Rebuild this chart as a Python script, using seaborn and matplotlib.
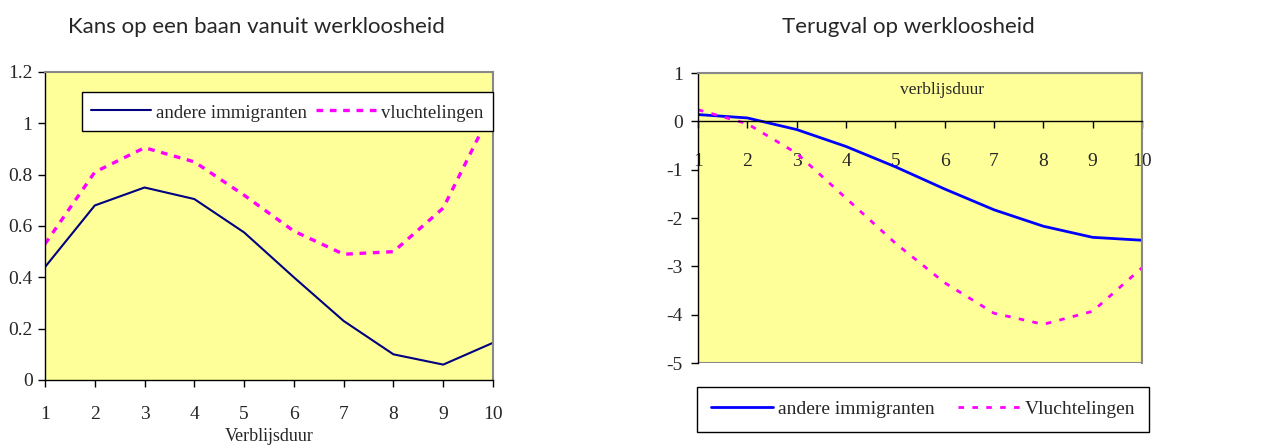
import numpy as np
import pandas as pd
import matplotlib
matplotlib.use("Agg")
import matplotlib.pyplot as plt
import seaborn as sns
from matplotlib.patches import Rectangle
from matplotlib.lines import Line2D

sns.set_theme(style="white")
plt.rcParams['font.family'] = ['Liberation Serif', 'DejaVu Sans']

# Data
verblijfsduur = [1, 2, 3, 4, 5, 6, 7, 8, 9, 10]
kans_andere = [0.44, 0.68, 0.75, 0.705, 0.575, 0.40, 0.23, 0.10, 0.06, 0.145]
kans_vlucht = [0.53, 0.81, 0.905, 0.85, 0.72, 0.58, 0.49, 0.50, 0.67, 1.06]
terug_andere = [0.14, 0.07, -0.17, -0.52, -0.94, -1.40, -1.83, -2.17, -2.40, -2.46]
terug_vlucht = [0.24, -0.05, -0.66, -1.59, -2.52, -3.34, -3.97, -4.20, -3.93, -3.03]
left_yticks = [0, 0.2, 0.4, 0.6, 0.8, 1, 1.2]
left_yticklabels = ["0", "0.2", "0.4", "0.6", "0.8", "1", "1.2"]
right_yticks = [1, 0, -1, -2, -3, -4, -5]

BG = "#FFFF99"
NAVY = "#000080"
BLUE = "#0000FF"
MAG = "#FF00FF"
TITLE_FONT = ['Lato', 'DejaVu Sans']
W, H = 1268, 446

fig = plt.figure(figsize=(W / 100, H / 100), dpi=100)
fig.patch.set_facecolor("white")

# ---------- Left panel ----------
ax1 = fig.add_axes([45 / W, (H - 380) / H, 448 / W, 308 / H])
df1 = pd.DataFrame({"x": verblijfsduur, "andere immigranten": kans_andere,
                    "vluchtelingen": kans_vlucht})
sns.lineplot(data=df1, x="x", y="andere immigranten", ax=ax1, color=NAVY, lw=1.5)
sns.lineplot(data=df1, x="x", y="vluchtelingen", ax=ax1, color=MAG, lw=2.4)
ax1.lines[1].set_dashes([2.0, 2.0])
ax1.set_facecolor(BG)
ax1.set_xlim(1, 10)
ax1.set_ylim(0, 1.2)
ax1.set_xticks(verblijfsduur)
ax1.set_xticklabels([str(v) for v in verblijfsduur], fontsize=14)
ax1.set_yticks(left_yticks)
ax1.set_yticklabels(left_yticklabels, fontsize=14)
ax1.tick_params(axis='both', direction='out', length=5, width=1, color='black',
                bottom=True, left=True)
ax1.tick_params(axis='x', pad=14)
ax1.tick_params(axis='y', pad=4)
ax1.set_xlabel("Verblijsduur", fontsize=13, labelpad=3)
ax1.set_ylabel("")
for s in ['top', 'right']:
    ax1.spines[s].set_color("#888888")
    ax1.spines[s].set_linewidth(1.5)
for s in ['left', 'bottom']:
    ax1.spines[s].set_color("black")
    ax1.spines[s].set_linewidth(1)
fig.text(256 / W, 1 - 33 / H, "Kans op een baan vanuit werkloosheid",
         family=TITLE_FONT, fontsize=16, ha='center', va='baseline')
h1 = [Line2D([], [], color=NAVY, lw=1.5),
      Line2D([], [], color=MAG, lw=2.4, dashes=[2.0, 2.0])]
leg1 = ax1.legend(h1, ["andere immigranten", "vluchtelingen"], ncol=2,
                  loc='upper left',
                  bbox_to_anchor=((82 - 45) / 448, 1 - (92 - 72) / 308),
                  bbox_transform=ax1.transAxes, fontsize=13.5, frameon=True,
                  fancybox=False, edgecolor='black', framealpha=1,
                  handlelength=3.2, columnspacing=0.5, handletextpad=0.25,
                  borderpad=0.5, handleheight=1.3, borderaxespad=0)
leg1.get_frame().set_linewidth(1)

# ---------- Right panel ----------
ax2 = fig.add_axes([698 / W, (H - 363) / H, 444 / W, 290 / H])
df2 = pd.DataFrame({"x": verblijfsduur, "andere immigranten": terug_andere,
                    "Vluchtelingen": terug_vlucht})
sns.lineplot(data=df2, x="x", y="andere immigranten", ax=ax2, color=BLUE, lw=2)
sns.lineplot(data=df2, x="x", y="Vluchtelingen", ax=ax2, color=MAG, lw=2)
ax2.lines[1].set_dashes([2, 3])
ax2.set_facecolor(BG)
ax2.spines['bottom'].set_position(('data', 0))
ax2.set_xlim(1, 10)
ax2.set_ylim(-5, 1)
ax2.set_yticks(right_yticks)
ax2.set_yticklabels([str(v) for v in right_yticks], fontsize=14)
ax2.set_xticks(verblijfsduur)
ax2.set_xticklabels([str(v) for v in verblijfsduur], fontsize=14)
ax2.spines['bottom'].set_color('black')
ax2.spines['bottom'].set_linewidth(1)
ax2.spines['left'].set_color('black')
ax2.spines['left'].set_linewidth(1)
for s in ['top', 'right']:
    ax2.spines[s].set_color("#888888")
    ax2.spines[s].set_linewidth(1.5)
ax2.add_patch(Rectangle((0, 0), 1, 1, transform=ax2.transAxes, fill=False,
                        edgecolor="#888888", lw=1.5, zorder=0.5))
ax2.tick_params(axis='x', direction='out', length=5, width=1, color='black',
                bottom=True, pad=18)
ax2.tick_params(axis='y', direction='out', length=5, width=1, color='black',
                left=True, pad=6)
ax2.set_xlabel("")
ax2.set_ylabel("")
ax2.text((942 - 698) / 444, 1 - (90 - 73) / 290, "verblijsduur",
         transform=ax2.transAxes, ha='center', va='center', fontsize=12.5)
fig.text(908 / W, 1 - 33 / H, "Terugval op werkloosheid",
         family=TITLE_FONT, fontsize=16, ha='center', va='baseline')
h2 = [Line2D([], [], color=BLUE, lw=2),
      Line2D([], [], color=MAG, lw=2, dashes=[2, 3])]
leg2 = fig.legend(h2, ["andere immigranten", "Vluchtelingen"], ncol=2,
                  loc='upper left', bbox_to_anchor=(697 / W, 1 - 387 / H),
                  fontsize=14, frameon=True, fancybox=False, edgecolor='black',
                  framealpha=1, handlelength=3.2, columnspacing=1.2,
                  handletextpad=0.25, borderpad=0.7, borderaxespad=0)
leg2.get_frame().set_linewidth(1)

fig.savefig("out.png", dpi=100)
